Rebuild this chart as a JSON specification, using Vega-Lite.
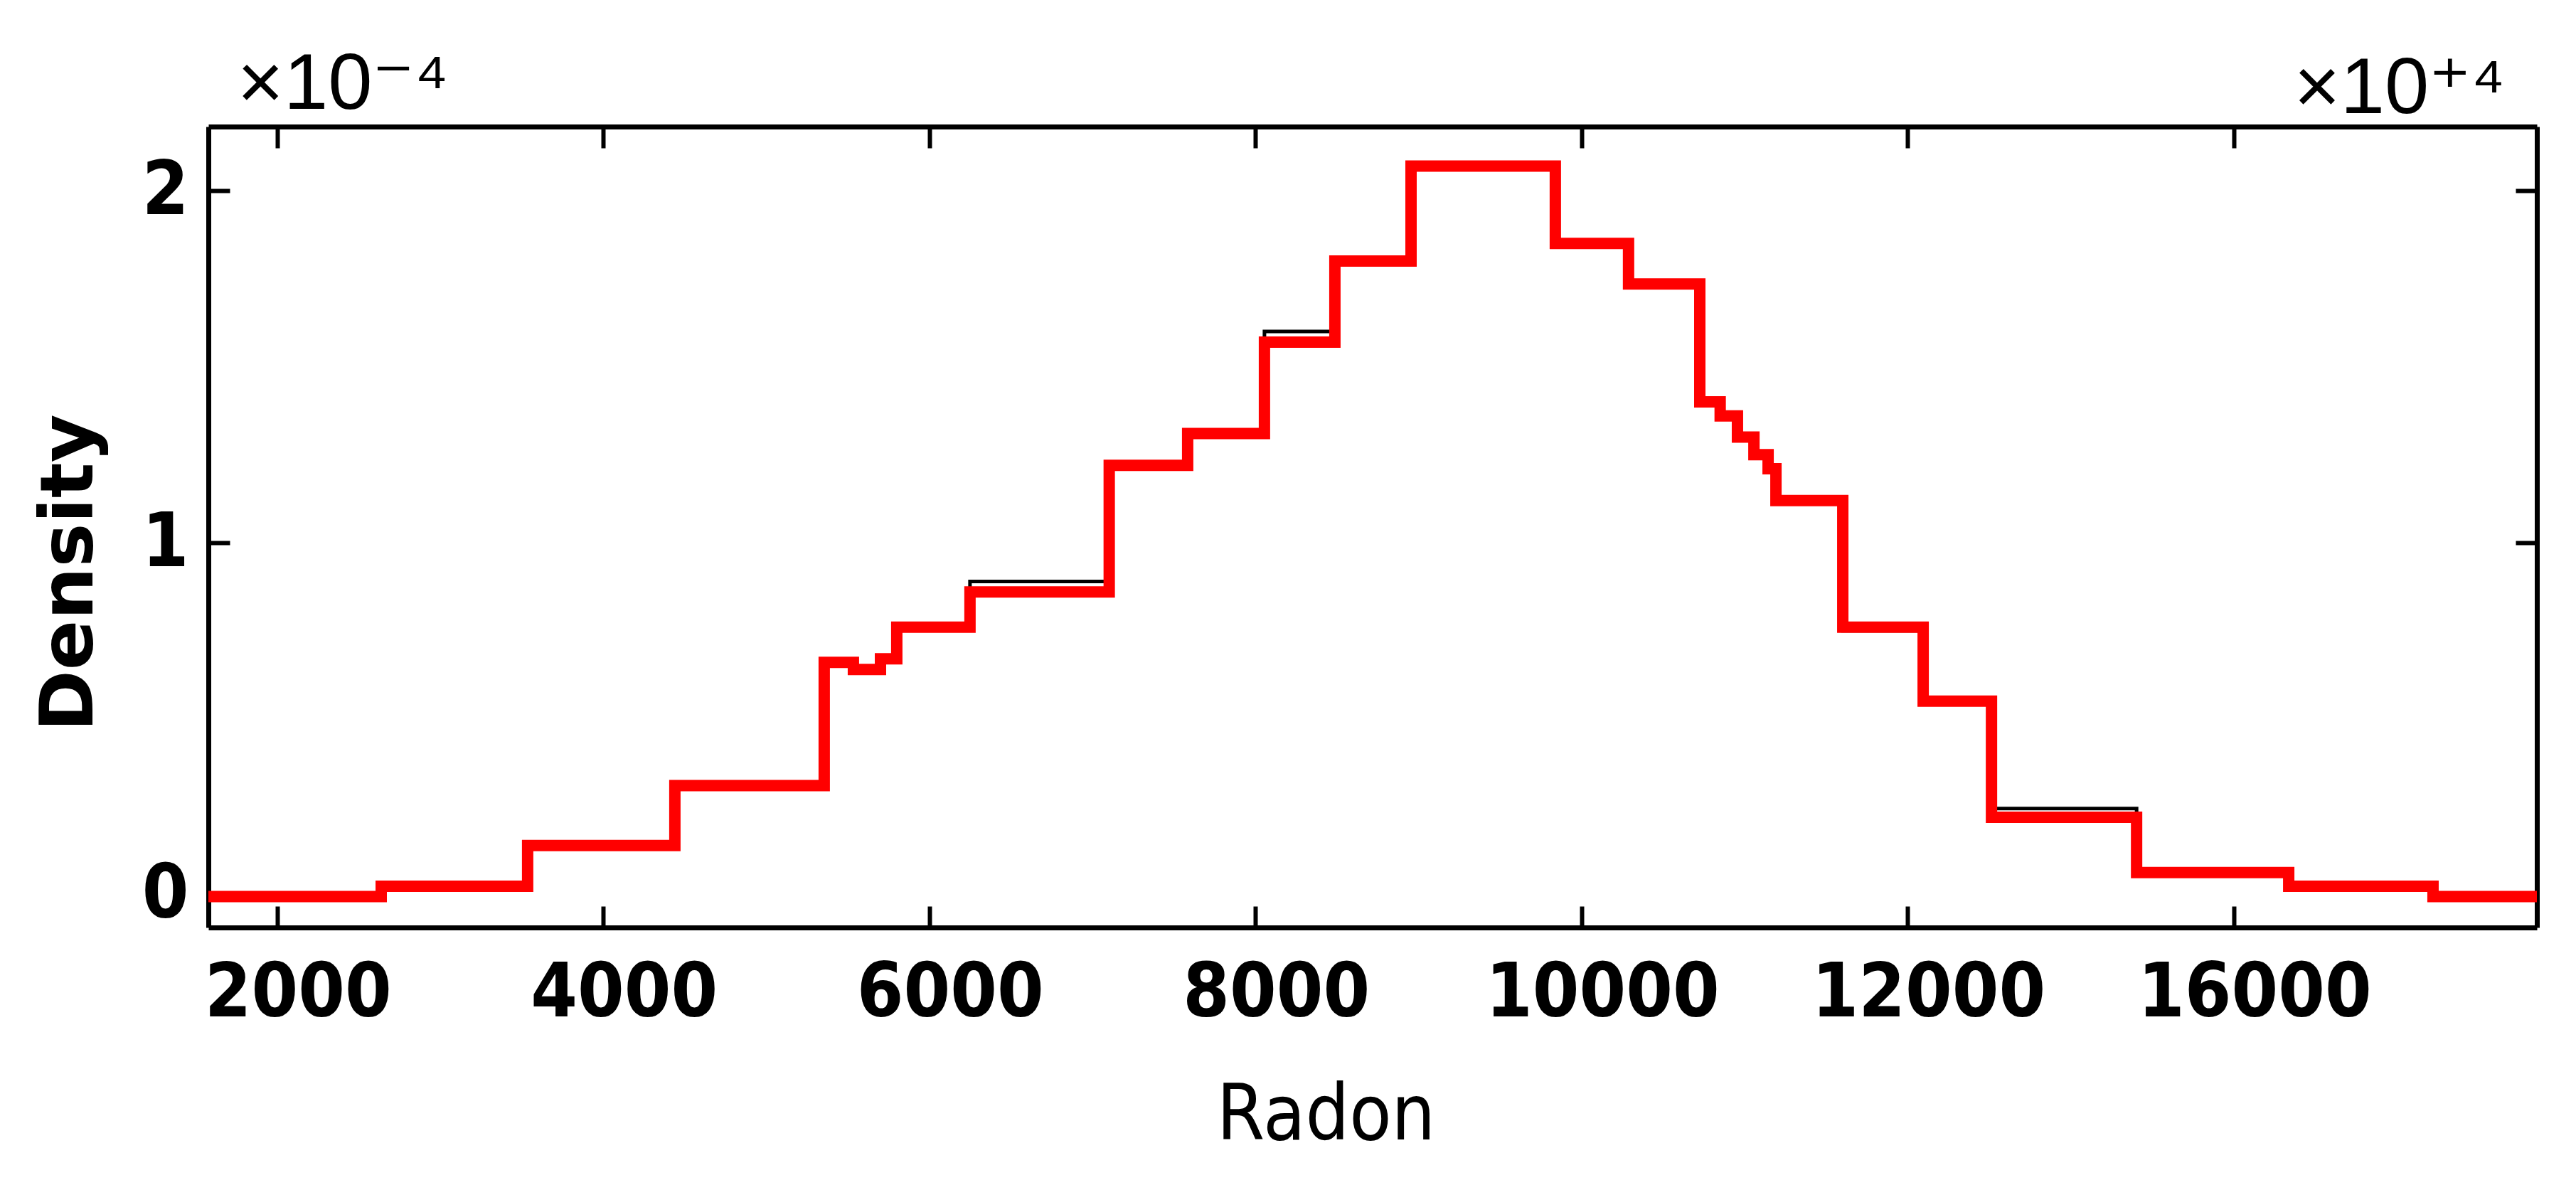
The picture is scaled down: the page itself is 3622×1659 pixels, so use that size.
{
  "$schema": "https://vega.github.io/schema/vega-lite/v6.json",
  "width": 3274,
  "height": 1126,
  "autosize": "none",
  "padding": {"left": 293, "top": 178, "right": 55, "bottom": 355},
  "background": "white",
  "config": {"view": {"stroke": null}},
  "data": {
    "values": [
      {"run": "black", "Radon": 1578, "Density": -0.0000005},
      {"run": "black", "Radon": 2638, "Density": 0.000003},
      {"run": "black", "Radon": 3536, "Density": 0.000014},
      {"run": "black", "Radon": 4439, "Density": 0.000031},
      {"run": "black", "Radon": 5355, "Density": 0.000066},
      {"run": "black", "Radon": 5534, "Density": 0.000064},
      {"run": "black", "Radon": 5700, "Density": 0.000067},
      {"run": "black", "Radon": 5800, "Density": 0.000076},
      {"run": "black", "Radon": 6249, "Density": 0.000089},
      {"run": "black", "Radon": 7103, "Density": 0.000122},
      {"run": "black", "Radon": 7584, "Density": 0.000131},
      {"run": "black", "Radon": 8055, "Density": 0.00016},
      {"run": "black", "Radon": 8487, "Density": 0.000181},
      {"run": "black", "Radon": 8954, "Density": 0.000207},
      {"run": "black", "Radon": 9839, "Density": 0.000185},
      {"run": "black", "Radon": 10288, "Density": 0.0001735},
      {"run": "black", "Radon": 10725, "Density": 0.00014},
      {"run": "black", "Radon": 10850, "Density": 0.000136},
      {"run": "black", "Radon": 10956, "Density": 0.00013},
      {"run": "black", "Radon": 11057, "Density": 0.000125},
      {"run": "black", "Radon": 11144, "Density": 0.000121},
      {"run": "black", "Radon": 11192, "Density": 0.000112},
      {"run": "black", "Radon": 11602, "Density": 0.000075},
      {"run": "black", "Radon": 12095, "Density": 0.000055},
      {"run": "black", "Radon": 12514, "Density": 0.0000245},
      {"run": "black", "Radon": 13404, "Density": 0.0000055},
      {"run": "black", "Radon": 14337, "Density": 0.0000024},
      {"run": "black", "Radon": 15222, "Density": -0.0000005},
      {"run": "black", "Radon": 15859, "Density": -0.0000005},
      {"run": "red", "Radon": 1578, "Density": -0.0000005},
      {"run": "red", "Radon": 2638, "Density": 0.0000024},
      {"run": "red", "Radon": 3536, "Density": 0.000014},
      {"run": "red", "Radon": 4439, "Density": 0.000031},
      {"run": "red", "Radon": 5355, "Density": 0.000066},
      {"run": "red", "Radon": 5534, "Density": 0.000064},
      {"run": "red", "Radon": 5700, "Density": 0.000067},
      {"run": "red", "Radon": 5800, "Density": 0.000076},
      {"run": "red", "Radon": 6249, "Density": 0.000086},
      {"run": "red", "Radon": 7103, "Density": 0.000122},
      {"run": "red", "Radon": 7584, "Density": 0.000131},
      {"run": "red", "Radon": 8055, "Density": 0.000157},
      {"run": "red", "Radon": 8487, "Density": 0.00018},
      {"run": "red", "Radon": 8954, "Density": 0.000207},
      {"run": "red", "Radon": 9839, "Density": 0.000185},
      {"run": "red", "Radon": 10288, "Density": 0.0001735},
      {"run": "red", "Radon": 10725, "Density": 0.00014},
      {"run": "red", "Radon": 10850, "Density": 0.000136},
      {"run": "red", "Radon": 10956, "Density": 0.00013},
      {"run": "red", "Radon": 11057, "Density": 0.000125},
      {"run": "red", "Radon": 11144, "Density": 0.000121},
      {"run": "red", "Radon": 11192, "Density": 0.000112},
      {"run": "red", "Radon": 11602, "Density": 0.000076},
      {"run": "red", "Radon": 12095, "Density": 0.000055},
      {"run": "red", "Radon": 12514, "Density": 0.000022},
      {"run": "red", "Radon": 13404, "Density": 0.0000063},
      {"run": "red", "Radon": 14337, "Density": 0.0000024},
      {"run": "red", "Radon": 15222, "Density": -0.0000005},
      {"run": "red", "Radon": 15859, "Density": -0.0000005}
    ]
  },
  "layer": [
    {
      "transform": [{"filter": "datum.run == 'black'"}],
      "mark": {"type": "line", "interpolate": "step-after", "color": "black", "strokeWidth": 5, "clip": true},
      "encoding": {
        "x": {
          "field": "Radon", "type": "quantitative",
          "scale": {"domain": [1578, 15859], "nice": false, "zero": false},
          "axis": {
            "orient": "bottom",
            "values": [2000, 4000, 6000, 8000, 10000, 12000, 14000],
            "labelExpr": "datum.value == 14000 ? '16000' : format(datum.value, 'd')",
            "labelFont": "DejaVu Sans Condensed, DejaVu Sans, sans-serif",
            "labelFontWeight": "bold", "labelFontSize": 105, "labelColor": "black",
            "labelOffset": 29, "labelPadding": 71, "labelFlush": false, "labelOverlap": false, "labelBound": false, "labelLimit": 0,
            "labelBaseline": "top",
            "tickSize": -30, "tickWidth": 6, "tickColor": "black",
            "domainWidth": 7, "domainColor": "black", "grid": false,
            "title": "Radon",
            "titleFont": "DejaVu Sans Condensed, DejaVu Sans, sans-serif",
            "titleFontSize": 108, "titleFontWeight": "normal", "titleColor": "black", "titleLimit": 0,
            "titleX": 1571, "titleY": 297, "titleAlign": "center", "titleBaseline": "alphabetic", "titleAngle": 0
          }
        },
        "y": {
          "field": "Density", "type": "quantitative",
          "scale": {"domain": [-0.0000093, 0.0002182], "nice": false, "zero": false},
          "axis": {
            "orient": "left",
            "values": [0, 0.0001, 0.0002],
            "labelExpr": "format(datum.value * 10000, 'd')",
            "labelFont": "DejaVu Sans Condensed, DejaVu Sans, sans-serif",
            "labelFontWeight": "bold", "labelFontSize": 105, "labelColor": "black",
            "labelPadding": 58, "labelBaseline": "middle", "labelFlush": false, "labelOverlap": false, "labelBound": false, "labelLimit": 0,
            "tickSize": -30, "tickWidth": 6, "tickColor": "black",
            "domainWidth": 7, "domainColor": "black", "grid": false,
            "title": "Density",
            "titleFont": "DejaVu Sans", "titleFontSize": 104, "titleFontWeight": "bold", "titleColor": "black", "titleLimit": 0,
            "titleAngle": 270, "titleX": -164, "titleY": 627, "titleAlign": "center", "titleBaseline": "alphabetic"
          }
        }
      }
    },
    {
      "transform": [{"filter": "datum.run == 'red'"}],
      "mark": {"type": "line", "interpolate": "step-after", "color": "#ff0000", "strokeWidth": 16, "clip": true},
      "encoding": {
        "x": {
          "field": "Radon", "type": "quantitative",
          "axis": {
            "orient": "top",
            "values": [2000, 4000, 6000, 8000, 10000, 12000, 14000],
            "labels": false,
            "tickSize": -30, "tickWidth": 6, "tickColor": "black",
            "domainWidth": 7, "domainColor": "black", "grid": false,
            "title": "×10⁻⁴",
            "titleFont": "Liberation Sans, DejaVu Sans, sans-serif",
            "titleFontSize": 112, "titleFontWeight": "normal", "titleColor": "black", "titleLimit": 0,
            "titleX": 40, "titleY": -26, "titleAlign": "left", "titleBaseline": "alphabetic", "titleAngle": 0
          }
        },
        "y": {
          "field": "Density", "type": "quantitative",
          "axis": {
            "orient": "right",
            "values": [0, 0.0001, 0.0002],
            "labels": false,
            "tickSize": -30, "tickWidth": 6, "tickColor": "black",
            "domainWidth": 7, "domainColor": "black", "grid": false,
            "title": "×10⁺⁴",
            "titleFont": "Liberation Sans, DejaVu Sans, sans-serif",
            "titleFontSize": 112, "titleFontWeight": "normal", "titleColor": "black", "titleLimit": 0,
            "titleAngle": 0, "titleX": -45, "titleY": -20, "titleAlign": "right", "titleBaseline": "alphabetic"
          }
        }
      }
    }
  ],
  "resolve": {"axis": {"x": "independent", "y": "independent"}}
}
